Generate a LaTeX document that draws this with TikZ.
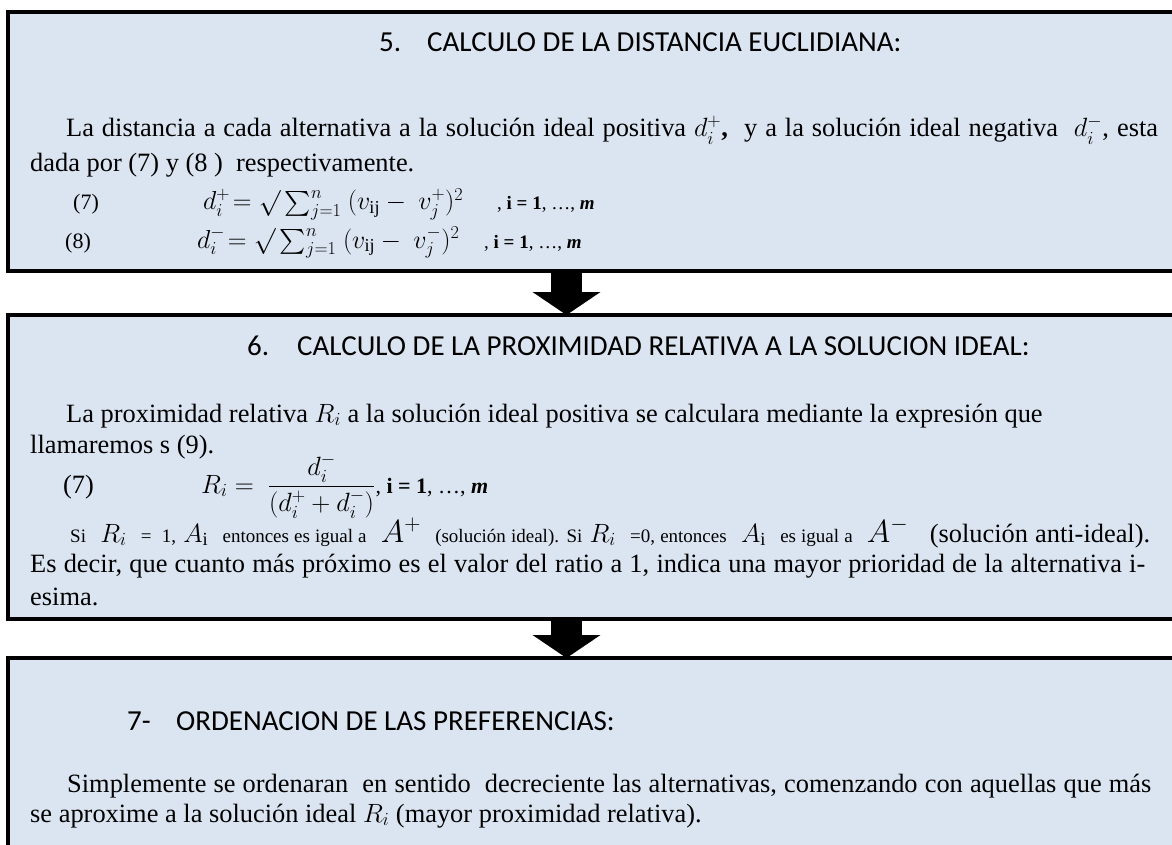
\RequirePackage{fix-cm}
\documentclass[tikz,border=0pt]{standalone}
\usepackage{amsmath}
\usepackage{fontspec}
\setmainfont{Liberation Serif}
\newfontfamily\calibri{Carlito}
\usetikzlibrary{arrows.meta, positioning}
\definecolor{boxBlue}{HTML}{DBE5F1}
\newcommand\bodysize{\fontsize{26.4}{35}\selectfont}
\newcommand\smallsize{\fontsize{19}{22}\selectfont}
\newcommand\eqsize{\fontsize{22}{26}\selectfont}
\newcommand\formsize{\fontsize{26}{30}\selectfont}
\newcommand\titlesize{\fontsize{29}{34}\selectfont}
\newcommand\bigA{\fontsize{32}{36}\selectfont}

\begin{document}
\begin{tikzpicture}[
  x=1pt, y=-1pt,
  panel/.style={rectangle, draw=black, line width=3.5pt, fill=boxBlue, anchor=north west, inner sep=0pt, outer sep=0pt, minimum width=1250pt},
  title/.style={anchor=base west, inner sep=0pt, font=\calibri\titlesize},
  txt/.style={anchor=base west, inner sep=0pt, font=\bodysize},
  eqn/.style={anchor=base west, inner sep=0pt, font=\eqsize},
  blockarrow/.style={line width=31pt, -{Triangle[width=68pt, length=23pt, line width=0pt]}}
]
\useasboundingbox (0,0) rectangle (1172,845);
\clip (0,0) rectangle (1172,845);
\fill[white] (0,0) rectangle (1172,845);

\node[panel, minimum height=259pt] (p5) at (8,12) {};
\node[panel, minimum height=304pt] (p6) at (8,315) {};
\node[panel, minimum height=250pt] (p7) at (8,658) {};
\coordinate (ax) at (566.5,0);

\draw[blockarrow] (p5.south -| ax) -- (p6.north -| ax);
\draw[blockarrow] (p6.south -| ax) -- (p7.north -| ax);

\node[title] (t5) at (379,52) {\makebox[48pt][l]{5.}CALCULO DE LA DISTANCIA EUCLIDIANA:};
\node[txt] (l5a) at (66,137) {\makebox[1092pt][s]{La distancia a cada alternativa a la solución ideal positiva $d_i^{+}$\textbf{,} \ y a la solución ideal negativa \ $d_i^{-}$, esta}};
\node[txt] (l5b) at (30,172) {dada por (7) y (8 ) \ respectivamente.};
\node[eqn] (n7) at (73,210) {(7)};
\node[eqn, font=\formsize] (e7) at (203,210) {\smash{$d_i^{+}\!=\sqrt{\vphantom{x}}\textstyle\sum_{j=1}^{n}\ (v_{\mathrm{ij}}-\ v_j^{+})^2$}};
\node[eqn, font=\smallsize] (r7) at (497,210) {, \textbf{i = 1}, …, \textbf{\textit{m}}};
\node[eqn] (n8) at (65,248) {(8)};
\node[eqn, font=\formsize] (e8) at (197,248) {\smash{$d_i^{-}\!=\sqrt{\vphantom{x}}\textstyle\sum_{j=1}^{n}\ (v_{\mathrm{ij}}-\ v_j^{-})^2$}};
\node[eqn, font=\smallsize] (r8) at (484,248) {, \textbf{i = 1}, …, \textbf{\textit{m}}};

\node[title] (t6) at (247,355) {\makebox[50pt][l]{6.}CALCULO DE LA PROXIMIDAD RELATIVA A LA SOLUCION IDEAL:};
\node[txt] (l6a) at (66,422) {La proximidad relativa $R_i$ a la solución ideal positiva se calculara mediante la expresión que};
\node[txt] (l6b) at (30,453) {llamaremos s (9).};
\node[txt] (n9) at (63,493) {(7)};
\node[txt] (e9) at (201,493) {$R_i =\ \dfrac{d_i^{-}}{(d_i^{+}+d_i^{-})}$};
\node[eqn, anchor=base west] (r9) at (e9.base east) {, \textbf{i = 1}, …, \textbf{\textit{m}}};
\node[txt] (l6c) at (70,542) {\makebox[1080pt][s]{{\smallsize Si} \ $R_i$ \ {\smallsize = \ 1,} $A_{\mathrm{i}}$ \ {\smallsize entonces es igual a} \ {\bigA$A^{+}$} \ {\smallsize (solución ideal). Si} $R_i$ \ {\smallsize =0, entonces} \ $A_{\mathrm{i}}$ \ {\smallsize es igual a} \ {\bigA$A^{-}$} \ \ (solución anti-ideal).}};
\node[txt] (l6d) at (30,572) {\makebox[1115pt][s]{Es decir, que cuanto más próximo es el valor del ratio a 1, indica una mayor prioridad de la alternativa i-}};
\node[txt] (l6e) at (30,605) {esima.};

\node[title] (t7) at (127,730) {\makebox[49pt][l]{7-}ORDENACION DE LAS PREFERENCIAS:};
\node[txt] (l7a) at (67,792) {\makebox[1084pt][s]{Simplemente se ordenaran \ en sentido \ decreciente las alternativas, comenzando con aquellas que más}};
\node[txt] (l7b) at (30,822) {se aproxime a la solución ideal $R_i$ (mayor proximidad relativa).};
\end{tikzpicture}
\end{document}
